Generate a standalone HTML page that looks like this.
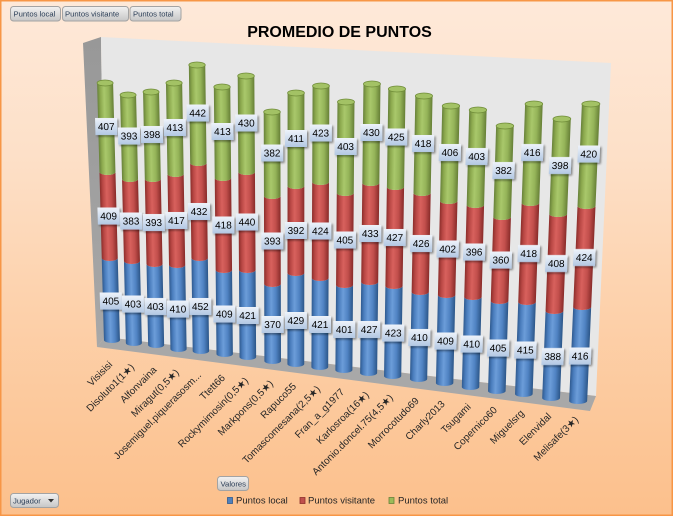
<!DOCTYPE html>
<html><head><meta charset="utf-8"><style>
html,body{margin:0;padding:0;width:673px;height:516px;overflow:hidden;background:#fff}
svg{display:block}
.lb rect{fill:url(#lbg);filter:url(#sh)}
.lb text{font-family:"Liberation Sans","DejaVu Sans",sans-serif;font-size:10px;text-anchor:middle;fill:#000}
.cat{font-family:"Liberation Sans","DejaVu Sans",sans-serif;font-size:10px;fill:#262626;text-anchor:end}
.btn{font-family:"Liberation Sans","DejaVu Sans",sans-serif;font-size:7.7px;fill:#2b3e57}
.leg{font-family:"Liberation Sans","DejaVu Sans",sans-serif;font-size:9.5px;fill:#262626}
</style></head><body>
<svg width="673" height="516" viewBox="0 0 673 516" xmlns="http://www.w3.org/2000/svg">
<defs>
<linearGradient id="bg" x1="0" y1="0" x2="0" y2="1">
<stop offset="0" stop-color="#fee9d9"/><stop offset="0.3" stop-color="#fde0c8"/><stop offset="0.6" stop-color="#fdd1ab"/><stop offset="0.85" stop-color="#fcc697"/><stop offset="1" stop-color="#fcc08c"/>
</linearGradient>
<linearGradient id="gb" x1="0" y1="0" x2="1" y2="0">
<stop offset="0" stop-color="#2f5a8f"/><stop offset="0.18" stop-color="#4a7dbd"/><stop offset="0.42" stop-color="#6c9dd9"/><stop offset="0.7" stop-color="#5083c3"/><stop offset="1" stop-color="#2c5688"/>
</linearGradient>
<linearGradient id="gr" x1="0" y1="0" x2="1" y2="0">
<stop offset="0" stop-color="#8c2e2b"/><stop offset="0.18" stop-color="#b84744"/><stop offset="0.42" stop-color="#d8615d"/><stop offset="0.7" stop-color="#c24f4c"/><stop offset="1" stop-color="#882b29"/>
</linearGradient>
<linearGradient id="gg" x1="0" y1="0" x2="1" y2="0">
<stop offset="0" stop-color="#67813a"/><stop offset="0.18" stop-color="#8ca94e"/><stop offset="0.42" stop-color="#a9c86b"/><stop offset="0.7" stop-color="#95b459"/><stop offset="1" stop-color="#667f36"/>
</linearGradient>
<linearGradient id="lbg" x1="0" y1="0" x2="0" y2="1">
<stop offset="0" stop-color="#eef3fa"/><stop offset="1" stop-color="#b3c8e3"/>
</linearGradient>
<linearGradient id="btg" x1="0" y1="0" x2="0" y2="1">
<stop offset="0" stop-color="#f2f2f2"/><stop offset="1" stop-color="#c6c6c6"/>
</linearGradient>
<linearGradient id="sw" x1="0" y1="0" x2="0" y2="1">
<stop offset="0" stop-color="#989898"/><stop offset="1" stop-color="#a8a8a8"/>
</linearGradient>
<filter id="sh" x="-30%" y="-30%" width="170%" height="180%">
<feGaussianBlur in="SourceAlpha" stdDeviation="1"/><feOffset dx="1.5" dy="1.5"/>
<feComponentTransfer><feFuncA type="linear" slope="0.45"/></feComponentTransfer>
<feMerge><feMergeNode/><feMergeNode in="SourceGraphic"/></feMerge>
</filter>
</defs>

<rect x="0" y="0" width="673" height="516" fill="url(#bg)"/>
<rect x="0.75" y="0.75" width="671.5" height="514.5" fill="none" stroke="#f79646" stroke-width="1.5"/>

<!-- walls -->
<polygon points="83,43 101,37 105,337 97,347" fill="url(#sw)"/>
<polygon points="101,37 611,63 596,396 105,337" fill="#e7e7e7"/>
<polygon points="105,337 596,396 590,411 97,347" fill="#a8a8a8"/>

<!-- title -->
<text x="339.5" y="37" text-anchor="middle" font-family="Liberation Sans, DejaVu Sans, sans-serif" font-weight="bold" font-size="16" fill="#000">PROMEDIO DE PUNTOS</text>

<!-- bars -->
<g transform="matrix(1 0 0.02667 1 102.87 0)"><path fill="url(#gb)" d="M-8,258L-8,340A8,3 0 0 0 8,340L8,258A8,3 0 0 1 -8,258Z"/><path fill="url(#gr)" d="M-8,172L-8,258A8,3 0 0 0 8,258L8,172A8,3 0 0 1 -8,172Z"/><path fill="url(#gg)" d="M-8,83L-8,172A8,3 0 0 0 8,172L8,83A8,3 0 0 1 -8,83Z"/><ellipse cx="0" cy="83" rx="8" ry="3" fill="#a3c265" stroke="#6f8c38" stroke-width="0.8"/></g>
<g transform="matrix(1 0 0.02338 1 125.85 0)"><path fill="url(#gb)" d="M-8,261L-8,343A8,3 0 0 0 8,343L8,261A8,3 0 0 1 -8,261Z"/><path fill="url(#gr)" d="M-8,179L-8,261A8,3 0 0 0 8,261L8,179A8,3 0 0 1 -8,179Z"/><path fill="url(#gg)" d="M-8,95L-8,179A8,3 0 0 0 8,179L8,95A8,3 0 0 1 -8,95Z"/><ellipse cx="0" cy="95" rx="8" ry="3" fill="#a3c265" stroke="#6f8c38" stroke-width="0.8"/></g>
<g transform="matrix(1 0 0.02009 1 149.21 0)"><path fill="url(#gb)" d="M-8,264L-8,345A8,3 0 0 0 8,345L8,264A8,3 0 0 1 -8,264Z"/><path fill="url(#gr)" d="M-8,179L-8,264A8,3 0 0 0 8,264L8,179A8,3 0 0 1 -8,179Z"/><path fill="url(#gg)" d="M-8,92L-8,179A8,3 0 0 0 8,179L8,92A8,3 0 0 1 -8,92Z"/><ellipse cx="0" cy="92" rx="8" ry="3" fill="#a3c265" stroke="#6f8c38" stroke-width="0.8"/></g>
<g transform="matrix(1 0 0.01680 1 172.66 0)"><path fill="url(#gb)" d="M-8.1,265L-8.1,349A8.1,3 0 0 0 8.1,349L8.1,265A8.1,3 0 0 1 -8.1,265Z"/><path fill="url(#gr)" d="M-8.1,174L-8.1,265A8.1,3 0 0 0 8.1,265L8.1,174A8.1,3 0 0 1 -8.1,174Z"/><path fill="url(#gg)" d="M-8.1,83L-8.1,174A8.1,3 0 0 0 8.1,174L8.1,83A8.1,3 0 0 1 -8.1,83Z"/><ellipse cx="0" cy="83" rx="8.1" ry="3" fill="#a3c265" stroke="#6f8c38" stroke-width="0.8"/></g>
<g transform="matrix(1 0 0.01351 1 196.16 0)"><path fill="url(#gb)" d="M-8.2,258L-8.2,351A8.2,3 0 0 0 8.2,351L8.2,258A8.2,3 0 0 1 -8.2,258Z"/><path fill="url(#gr)" d="M-8.2,163L-8.2,258A8.2,3 0 0 0 8.2,258L8.2,163A8.2,3 0 0 1 -8.2,163Z"/><path fill="url(#gg)" d="M-8.2,65L-8.2,163A8.2,3 0 0 0 8.2,163L8.2,65A8.2,3 0 0 1 -8.2,65Z"/><ellipse cx="0" cy="65" rx="8.2" ry="3" fill="#a3c265" stroke="#6f8c38" stroke-width="0.8"/></g>
<g transform="matrix(1 0 0.00994 1 221.17 0)"><path fill="url(#gb)" d="M-8.2,270L-8.2,354A8.2,3 0 0 0 8.2,354L8.2,270A8.2,3 0 0 1 -8.2,270Z"/><path fill="url(#gr)" d="M-8.2,178L-8.2,270A8.2,3 0 0 0 8.2,270L8.2,178A8.2,3 0 0 1 -8.2,178Z"/><path fill="url(#gg)" d="M-8.2,87L-8.2,178A8.2,3 0 0 0 8.2,178L8.2,87A8.2,3 0 0 1 -8.2,87Z"/><ellipse cx="0" cy="87" rx="8.2" ry="3" fill="#a3c265" stroke="#6f8c38" stroke-width="0.8"/></g>
<g transform="matrix(1 0 0.00651 1 245.52 0)"><path fill="url(#gb)" d="M-8.3,270L-8.3,357A8.3,3 0 0 0 8.3,357L8.3,270A8.3,3 0 0 1 -8.3,270Z"/><path fill="url(#gr)" d="M-8.3,172L-8.3,270A8.3,3 0 0 0 8.3,270L8.3,172A8.3,3 0 0 1 -8.3,172Z"/><path fill="url(#gg)" d="M-8.3,76L-8.3,172A8.3,3 0 0 0 8.3,172L8.3,76A8.3,3 0 0 1 -8.3,76Z"/><ellipse cx="0" cy="76" rx="8.3" ry="3" fill="#a3c265" stroke="#6f8c38" stroke-width="0.8"/></g>
<g transform="matrix(1 0 0.00279 1 271.70 0)"><path fill="url(#gb)" d="M-8.3,284L-8.3,361A8.3,3 0 0 0 8.3,361L8.3,284A8.3,3 0 0 1 -8.3,284Z"/><path fill="url(#gr)" d="M-8.3,196L-8.3,284A8.3,3 0 0 0 8.3,284L8.3,196A8.3,3 0 0 1 -8.3,196Z"/><path fill="url(#gg)" d="M-8.3,112L-8.3,196A8.3,3 0 0 0 8.3,196L8.3,112A8.3,3 0 0 1 -8.3,112Z"/><ellipse cx="0" cy="112" rx="8.3" ry="3" fill="#a3c265" stroke="#6f8c38" stroke-width="0.8"/></g>
<g transform="matrix(1 0 -0.00064 1 296.06 0)"><path fill="url(#gb)" d="M-8.4,273L-8.4,364A8.4,3 0 0 0 8.4,364L8.4,273A8.4,3 0 0 1 -8.4,273Z"/><path fill="url(#gr)" d="M-8.4,186L-8.4,273A8.4,3 0 0 0 8.4,273L8.4,186A8.4,3 0 0 1 -8.4,186Z"/><path fill="url(#gg)" d="M-8.4,93L-8.4,186A8.4,3 0 0 0 8.4,186L8.4,93A8.4,3 0 0 1 -8.4,93Z"/><ellipse cx="0" cy="93" rx="8.4" ry="3" fill="#a3c265" stroke="#6f8c38" stroke-width="0.8"/></g>
<g transform="matrix(1 0 -0.00422 1 321.35 0)"><path fill="url(#gb)" d="M-8.4,278L-8.4,367A8.4,3 0 0 0 8.4,367L8.4,278A8.4,3 0 0 1 -8.4,278Z"/><path fill="url(#gr)" d="M-8.4,182L-8.4,278A8.4,3 0 0 0 8.4,278L8.4,182A8.4,3 0 0 1 -8.4,182Z"/><path fill="url(#gg)" d="M-8.4,86L-8.4,182A8.4,3 0 0 0 8.4,182L8.4,86A8.4,3 0 0 1 -8.4,86Z"/><ellipse cx="0" cy="86" rx="8.4" ry="3" fill="#a3c265" stroke="#6f8c38" stroke-width="0.8"/></g>
<g transform="matrix(1 0 -0.00779 1 346.77 0)"><path fill="url(#gb)" d="M-8.5,285L-8.5,370A8.5,3 0 0 0 8.5,370L8.5,285A8.5,3 0 0 1 -8.5,285Z"/><path fill="url(#gr)" d="M-8.5,193L-8.5,285A8.5,3 0 0 0 8.5,285L8.5,193A8.5,3 0 0 1 -8.5,193Z"/><path fill="url(#gg)" d="M-8.5,102L-8.5,193A8.5,3 0 0 0 8.5,193L8.5,102A8.5,3 0 0 1 -8.5,102Z"/><ellipse cx="0" cy="102" rx="8.5" ry="3" fill="#a3c265" stroke="#6f8c38" stroke-width="0.8"/></g>
<g transform="matrix(1 0 -0.01151 1 372.93 0)"><path fill="url(#gb)" d="M-8.5,282L-8.5,373A8.5,3 0 0 0 8.5,373L8.5,282A8.5,3 0 0 1 -8.5,282Z"/><path fill="url(#gr)" d="M-8.5,183L-8.5,282A8.5,3 0 0 0 8.5,282L8.5,183A8.5,3 0 0 1 -8.5,183Z"/><path fill="url(#gg)" d="M-8.5,84L-8.5,183A8.5,3 0 0 0 8.5,183L8.5,84A8.5,3 0 0 1 -8.5,84Z"/><ellipse cx="0" cy="84" rx="8.5" ry="3" fill="#a3c265" stroke="#6f8c38" stroke-width="0.8"/></g>
<g transform="matrix(1 0 -0.01509 1 398.30 0)"><path fill="url(#gb)" d="M-8.6,286L-8.6,376A8.6,3 0 0 0 8.6,376L8.6,286A8.6,3 0 0 1 -8.6,286Z"/><path fill="url(#gr)" d="M-8.6,187L-8.6,286A8.6,3 0 0 0 8.6,286L8.6,187A8.6,3 0 0 1 -8.6,187Z"/><path fill="url(#gg)" d="M-8.6,89L-8.6,187A8.6,3 0 0 0 8.6,187L8.6,89A8.6,3 0 0 1 -8.6,89Z"/><ellipse cx="0" cy="89" rx="8.6" ry="3" fill="#a3c265" stroke="#6f8c38" stroke-width="0.8"/></g>
<g transform="matrix(1 0 -0.01895 1 425.76 0)"><path fill="url(#gb)" d="M-8.6,292L-8.6,379A8.6,3 0 0 0 8.6,379L8.6,292A8.6,3 0 0 1 -8.6,292Z"/><path fill="url(#gr)" d="M-8.6,193L-8.6,292A8.6,3 0 0 0 8.6,292L8.6,193A8.6,3 0 0 1 -8.6,193Z"/><path fill="url(#gg)" d="M-8.6,96L-8.6,193A8.6,3 0 0 0 8.6,193L8.6,96A8.6,3 0 0 1 -8.6,96Z"/><ellipse cx="0" cy="96" rx="8.6" ry="3" fill="#a3c265" stroke="#6f8c38" stroke-width="0.8"/></g>
<g transform="matrix(1 0 -0.02281 1 453.35 0)"><path fill="url(#gb)" d="M-8.7,295L-8.7,383A8.7,3 0 0 0 8.7,383L8.7,295A8.7,3 0 0 1 -8.7,295Z"/><path fill="url(#gr)" d="M-8.7,201L-8.7,295A8.7,3 0 0 0 8.7,295L8.7,201A8.7,3 0 0 1 -8.7,201Z"/><path fill="url(#gg)" d="M-8.7,106L-8.7,201A8.7,3 0 0 0 8.7,201L8.7,106A8.7,3 0 0 1 -8.7,106Z"/><ellipse cx="0" cy="106" rx="8.7" ry="3" fill="#a3c265" stroke="#6f8c38" stroke-width="0.8"/></g>
<g transform="matrix(1 0 -0.02667 1 480.85 0)"><path fill="url(#gb)" d="M-8.7,297L-8.7,387A8.7,3 0 0 0 8.7,387L8.7,297A8.7,3 0 0 1 -8.7,297Z"/><path fill="url(#gr)" d="M-8.7,205L-8.7,297A8.7,3 0 0 0 8.7,297L8.7,205A8.7,3 0 0 1 -8.7,205Z"/><path fill="url(#gg)" d="M-8.7,110L-8.7,205A8.7,3 0 0 0 8.7,205L8.7,110A8.7,3 0 0 1 -8.7,110Z"/><ellipse cx="0" cy="110" rx="8.7" ry="3" fill="#a3c265" stroke="#6f8c38" stroke-width="0.8"/></g>
<g transform="matrix(1 0 -0.03053 1 508.76 0)"><path fill="url(#gb)" d="M-8.8,301L-8.8,391A8.8,3 0 0 0 8.8,391L8.8,301A8.8,3 0 0 1 -8.8,301Z"/><path fill="url(#gr)" d="M-8.8,217L-8.8,301A8.8,3 0 0 0 8.8,301L8.8,217A8.8,3 0 0 1 -8.8,217Z"/><path fill="url(#gg)" d="M-8.8,126L-8.8,217A8.8,3 0 0 0 8.8,217L8.8,126A8.8,3 0 0 1 -8.8,126Z"/><ellipse cx="0" cy="126" rx="8.8" ry="3" fill="#a3c265" stroke="#6f8c38" stroke-width="0.8"/></g>
<g transform="matrix(1 0 -0.03468 1 537.50 0)"><path fill="url(#gb)" d="M-8.8,302L-8.8,394A8.8,3 0 0 0 8.8,394L8.8,302A8.8,3 0 0 1 -8.8,302Z"/><path fill="url(#gr)" d="M-8.8,203L-8.8,302A8.8,3 0 0 0 8.8,302L8.8,203A8.8,3 0 0 1 -8.8,203Z"/><path fill="url(#gg)" d="M-8.8,104L-8.8,203A8.8,3 0 0 0 8.8,203L8.8,104A8.8,3 0 0 1 -8.8,104Z"/><ellipse cx="0" cy="104" rx="8.8" ry="3" fill="#a3c265" stroke="#6f8c38" stroke-width="0.8"/></g>
<g transform="matrix(1 0 -0.03868 1 566.49 0)"><path fill="url(#gb)" d="M-8.9,311L-8.9,398A8.9,3 0 0 0 8.9,398L8.9,311A8.9,3 0 0 1 -8.9,311Z"/><path fill="url(#gr)" d="M-8.9,214L-8.9,311A8.9,3 0 0 0 8.9,311L8.9,214A8.9,3 0 0 1 -8.9,214Z"/><path fill="url(#gg)" d="M-8.9,119L-8.9,214A8.9,3 0 0 0 8.9,214L8.9,119A8.9,3 0 0 1 -8.9,119Z"/><ellipse cx="0" cy="119" rx="8.9" ry="3" fill="#a3c265" stroke="#6f8c38" stroke-width="0.8"/></g>
<g transform="matrix(1 0 -0.04283 1 595.33 0)"><path fill="url(#gb)" d="M-9,307L-9,401A9,3 0 0 0 9,401L9,307A9,3 0 0 1 -9,307Z"/><path fill="url(#gr)" d="M-9,206L-9,307A9,3 0 0 0 9,307L9,206A9,3 0 0 1 -9,206Z"/><path fill="url(#gg)" d="M-9,104L-9,206A9,3 0 0 0 9,206L9,104A9,3 0 0 1 -9,104Z"/><ellipse cx="0" cy="104" rx="9" ry="3" fill="#a3c265" stroke="#6f8c38" stroke-width="0.8"/></g>

<!-- data labels -->
<g class="lb">
<g transform="matrix(1 0 0.02667 1 102.87 0)"><rect x="-11" y="118" width="22" height="17"/><text x="0" y="130.1">407</text><rect x="-11" y="207.5" width="22" height="17"/><text x="0" y="219.6">409</text><rect x="-11" y="292.5" width="22" height="17"/><text x="0" y="304.6">405</text></g>
<g transform="matrix(1 0 0.02338 1 125.85 0)"><rect x="-11" y="127.5" width="22" height="17"/><text x="0" y="139.6">393</text><rect x="-11" y="212.5" width="22" height="17"/><text x="0" y="224.6">383</text><rect x="-11" y="295.5" width="22" height="17"/><text x="0" y="307.6">403</text></g>
<g transform="matrix(1 0 0.02009 1 149.21 0)"><rect x="-11" y="126" width="22" height="17"/><text x="0" y="138.1">398</text><rect x="-11" y="214" width="22" height="17"/><text x="0" y="226.1">393</text><rect x="-11" y="298" width="22" height="17"/><text x="0" y="310.1">403</text></g>
<g transform="matrix(1 0 0.01680 1 172.66 0)"><rect x="-11" y="119" width="22" height="17"/><text x="0" y="131.1">413</text><rect x="-11" y="212" width="22" height="17"/><text x="0" y="224.1">417</text><rect x="-11" y="300.5" width="22" height="17"/><text x="0" y="312.6">410</text></g>
<g transform="matrix(1 0 0.01351 1 196.16 0)"><rect x="-11" y="104.5" width="22" height="17"/><text x="0" y="116.6">442</text><rect x="-11" y="203" width="22" height="17"/><text x="0" y="215.1">432</text><rect x="-11" y="298" width="22" height="17"/><text x="0" y="310.1">452</text></g>
<g transform="matrix(1 0 0.00994 1 221.17 0)"><rect x="-11" y="123" width="22" height="17"/><text x="0" y="135.1">413</text><rect x="-11" y="216.5" width="22" height="17"/><text x="0" y="228.6">418</text><rect x="-11" y="305.5" width="22" height="17"/><text x="0" y="317.6">409</text></g>
<g transform="matrix(1 0 0.00651 1 245.52 0)"><rect x="-11" y="114.5" width="22" height="17"/><text x="0" y="126.6">430</text><rect x="-11" y="213.5" width="22" height="17"/><text x="0" y="225.6">440</text><rect x="-11" y="307" width="22" height="17"/><text x="0" y="319.1">421</text></g>
<g transform="matrix(1 0 0.00279 1 271.70 0)"><rect x="-11" y="144.5" width="22" height="17"/><text x="0" y="156.6">382</text><rect x="-11" y="232.5" width="22" height="17"/><text x="0" y="244.6">393</text><rect x="-11" y="316" width="22" height="17"/><text x="0" y="328.1">370</text></g>
<g transform="matrix(1 0 -0.00064 1 296.06 0)"><rect x="-11" y="130" width="22" height="17"/><text x="0" y="142.1">411</text><rect x="-11" y="222" width="22" height="17"/><text x="0" y="234.1">392</text><rect x="-11" y="312" width="22" height="17"/><text x="0" y="324.1">429</text></g>
<g transform="matrix(1 0 -0.00422 1 321.35 0)"><rect x="-11" y="124.5" width="22" height="17"/><text x="0" y="136.6">423</text><rect x="-11" y="222.5" width="22" height="17"/><text x="0" y="234.6">424</text><rect x="-11" y="316" width="22" height="17"/><text x="0" y="328.1">421</text></g>
<g transform="matrix(1 0 -0.00779 1 346.77 0)"><rect x="-11" y="138" width="22" height="17"/><text x="0" y="150.1">403</text><rect x="-11" y="231.5" width="22" height="17"/><text x="0" y="243.6">405</text><rect x="-11" y="321" width="22" height="17"/><text x="0" y="333.1">401</text></g>
<g transform="matrix(1 0 -0.01151 1 372.93 0)"><rect x="-11" y="124" width="22" height="17"/><text x="0" y="136.1">430</text><rect x="-11" y="225" width="22" height="17"/><text x="0" y="237.1">433</text><rect x="-11" y="321" width="22" height="17"/><text x="0" y="333.1">427</text></g>
<g transform="matrix(1 0 -0.01509 1 398.30 0)"><rect x="-11" y="128.5" width="22" height="17"/><text x="0" y="140.6">425</text><rect x="-11" y="229" width="22" height="17"/><text x="0" y="241.1">427</text><rect x="-11" y="324.5" width="22" height="17"/><text x="0" y="336.6">423</text></g>
<g transform="matrix(1 0 -0.01895 1 425.76 0)"><rect x="-11" y="135" width="22" height="17"/><text x="0" y="147.1">418</text><rect x="-11" y="235" width="22" height="17"/><text x="0" y="247.1">426</text><rect x="-11" y="329" width="22" height="17"/><text x="0" y="341.1">410</text></g>
<g transform="matrix(1 0 -0.02281 1 453.35 0)"><rect x="-11" y="144" width="22" height="17"/><text x="0" y="156.1">406</text><rect x="-11" y="240.5" width="22" height="17"/><text x="0" y="252.6">402</text><rect x="-11" y="332.5" width="22" height="17"/><text x="0" y="344.6">409</text></g>
<g transform="matrix(1 0 -0.02667 1 480.85 0)"><rect x="-11" y="148" width="22" height="17"/><text x="0" y="160.1">403</text><rect x="-11" y="243.5" width="22" height="17"/><text x="0" y="255.6">396</text><rect x="-11" y="335.5" width="22" height="17"/><text x="0" y="347.6">410</text></g>
<g transform="matrix(1 0 -0.03053 1 508.76 0)"><rect x="-11" y="162" width="22" height="17"/><text x="0" y="174.1">382</text><rect x="-11" y="251.5" width="22" height="17"/><text x="0" y="263.6">360</text><rect x="-11" y="339.5" width="22" height="17"/><text x="0" y="351.6">405</text></g>
<g transform="matrix(1 0 -0.03468 1 537.50 0)"><rect x="-11" y="144" width="22" height="17"/><text x="0" y="156.1">416</text><rect x="-11" y="245" width="22" height="17"/><text x="0" y="257.1">418</text><rect x="-11" y="341.5" width="22" height="17"/><text x="0" y="353.6">415</text></g>
<g transform="matrix(1 0 -0.03868 1 566.49 0)"><rect x="-11" y="157" width="22" height="17"/><text x="0" y="169.1">398</text><rect x="-11" y="255" width="22" height="17"/><text x="0" y="267.1">408</text><rect x="-11" y="348" width="22" height="17"/><text x="0" y="360.1">388</text></g>
<g transform="matrix(1 0 -0.04283 1 595.33 0)"><rect x="-11" y="145.5" width="22" height="17"/><text x="0" y="157.6">420</text><rect x="-11" y="249" width="22" height="17"/><text x="0" y="261.1">424</text><rect x="-11" y="347.5" width="22" height="17"/><text x="0" y="359.6">416</text></g>
</g>

<!-- category labels -->
<text class="cat" transform="translate(113,365.2) rotate(-45)">Visisisi</text>
<text class="cat" transform="translate(134.9,367.8) rotate(-45)">Disoluto1(1★)</text>
<text class="cat" transform="translate(157.2,370.5) rotate(-45)">Alfonvaina</text>
<text class="cat" transform="translate(179.6,373.1) rotate(-45)">Miragut(0,5★)</text>
<text class="cat" transform="translate(201.9,375.7) rotate(-45)">Josemiguel.piquerasosm...</text>
<text class="cat" transform="translate(225.7,378.5) rotate(-45)">Ttett66</text>
<text class="cat" transform="translate(248.9,381.3) rotate(-45)">Rockymimosin(0,5★)</text>
<text class="cat" transform="translate(273.7,384.2) rotate(-45)">Markpons(0,5★)</text>
<text class="cat" transform="translate(296.8,386.9) rotate(-45)">Rapuco55</text>
<text class="cat" transform="translate(320.8,389.8) rotate(-45)">Tomascomesana(2,5★)</text>
<text class="cat" transform="translate(344.9,392.6) rotate(-45)">Fran_a_g1977</text>
<text class="cat" transform="translate(369.6,395.5) rotate(-45)">Karlosroa(16★)</text>
<text class="cat" transform="translate(393.6,398.3) rotate(-45)">Antonio.doncel.75(4,5★)</text>
<text class="cat" transform="translate(419.5,401.4) rotate(-45)">Morrocotudo69</text>
<text class="cat" transform="translate(445.5,404.5) rotate(-45)">Charly2013</text>
<text class="cat" transform="translate(471.5,407.5) rotate(-45)">Tsugami</text>
<text class="cat" transform="translate(497.7,410.6) rotate(-45)">Copernico60</text>
<text class="cat" transform="translate(524.7,413.8) rotate(-45)">Miguelsrg</text>
<text class="cat" transform="translate(552,417) rotate(-45)">Elenvidal</text>
<text class="cat" transform="translate(579,420.2) rotate(-45)">Melisafe(3★)</text>

<!-- field buttons -->
<rect x="10.5" y="6.5" width="50" height="14.5" rx="3" fill="url(#btg)" stroke="#a3a3a3"/>
<text class="btn" x="13.5" y="16.5">Puntos local</text>
<rect x="62.5" y="6.5" width="66" height="14.5" rx="3" fill="url(#btg)" stroke="#a3a3a3"/>
<text class="btn" x="65" y="16.5">Puntos visitante</text>
<rect x="130" y="6.5" width="51" height="14.5" rx="3" fill="url(#btg)" stroke="#a3a3a3"/>
<text class="btn" x="133" y="16.5">Puntos total</text>

<rect x="217.5" y="476.5" width="31" height="14" rx="3" fill="url(#btg)" stroke="#a3a3a3"/>
<text class="btn" x="220.5" y="486.5">Valores</text>

<rect x="10.5" y="493.5" width="48" height="14" rx="3" fill="url(#btg)" stroke="#a3a3a3"/>
<text class="btn" x="13" y="503.5">Jugador</text>
<polygon points="48,499 54,499 51,502.5" fill="#333"/>

<!-- legend -->
<rect x="227.5" y="497.5" width="5" height="6" fill="#4f81bd" stroke="#2f5a8f" stroke-width="0.8"/>
<text class="leg" x="236" y="503.5">Puntos local</text>
<rect x="300" y="497.5" width="5" height="6" fill="#c0504d" stroke="#8c2e2b" stroke-width="0.8"/>
<text class="leg" x="308" y="503.5">Puntos visitante</text>
<rect x="389" y="497.5" width="5" height="6" fill="#9bbb59" stroke="#67813a" stroke-width="0.8"/>
<text class="leg" x="398" y="503.5">Puntos total</text>
</svg>
</body></html>
